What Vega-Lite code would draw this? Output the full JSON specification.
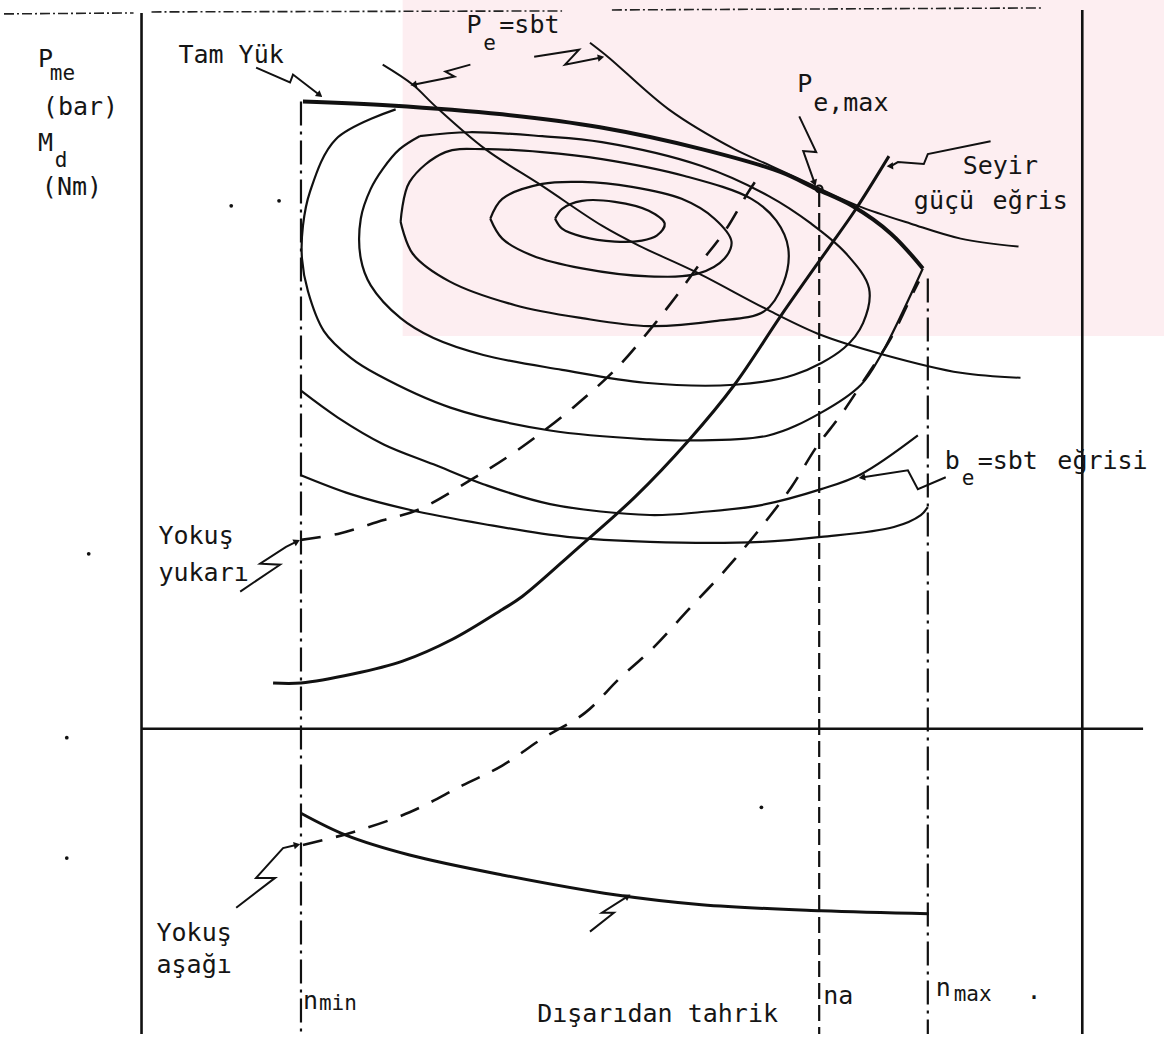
{
  "$schema": "https://vega.github.io/schema/vega-lite/v6.json",
  "width": 1164,
  "height": 1040,
  "autosize": {"type": "fit", "contains": "padding"},
  "padding": 0,
  "background": "white",
  "view": {"stroke": null},
  "datasets": {
    "tint": [{"n": 400, "n2": 1164, "M": 395, "M2": 733}],
    "frame": [
      {"id": "left", "i": 0, "n": 138, "M": 720}, {"id": "left", "i": 1, "n": 138, "M": -307},
      {"id": "right", "i": 0, "n": 1082, "M": 723}, {"id": "right", "i": 1, "n": 1082, "M": -307},
      {"id": "zero", "i": 0, "n": 138, "M": 0}, {"id": "zero", "i": 1, "n": 1143, "M": 0}
    ],
    "topedge": [
      {"id": "t1", "i": 0, "n": 0, "M": 719}, {"id": "t1", "i": 1, "n": 130, "M": 720},
      {"id": "t2", "i": 0, "n": 148, "M": 721}, {"id": "t2", "i": 1, "n": 560, "M": 722},
      {"id": "t3", "i": 0, "n": 610, "M": 723}, {"id": "t3", "i": 1, "n": 1043, "M": 725}
    ],
    "fullload": [
      {"i": 0, "n": 300, "M": 631}, {"i": 1, "n": 388, "M": 627}, {"i": 2, "n": 500, "M": 618},
      {"i": 3, "n": 598, "M": 605}, {"i": 4, "n": 700, "M": 583}, {"i": 5, "n": 779, "M": 560},
      {"i": 6, "n": 815, "M": 543}, {"i": 7, "n": 851, "M": 526}, {"i": 8, "n": 890, "M": 498},
      {"i": 9, "n": 922, "M": 463}
    ],
    "power": [
      {"id": "pe1", "i": 0, "n": 380, "M": 668}, {"id": "pe1", "i": 1, "n": 410, "M": 648},
      {"id": "pe1", "i": 2, "n": 433, "M": 626}, {"id": "pe1", "i": 3, "n": 483, "M": 583},
      {"id": "pe1", "i": 4, "n": 540, "M": 546}, {"id": "pe1", "i": 5, "n": 600, "M": 506},
      {"id": "pe1", "i": 6, "n": 637, "M": 486}, {"id": "pe1", "i": 7, "n": 693, "M": 460},
      {"id": "pe1", "i": 8, "n": 767, "M": 421}, {"id": "pe1", "i": 9, "n": 820, "M": 396},
      {"id": "pe1", "i": 10, "n": 880, "M": 377}, {"id": "pe1", "i": 11, "n": 960, "M": 358},
      {"id": "pe1", "i": 12, "n": 1020, "M": 353},
      {"id": "pe2", "i": 0, "n": 588, "M": 690}, {"id": "pe2", "i": 1, "n": 607, "M": 675},
      {"id": "pe2", "i": 2, "n": 667, "M": 623}, {"id": "pe2", "i": 3, "n": 733, "M": 583},
      {"id": "pe2", "i": 4, "n": 770, "M": 566}, {"id": "pe2", "i": 5, "n": 815, "M": 545},
      {"id": "pe2", "i": 6, "n": 857, "M": 526}, {"id": "pe2", "i": 7, "n": 910, "M": 508},
      {"id": "pe2", "i": 8, "n": 960, "M": 493}, {"id": "pe2", "i": 9, "n": 1018, "M": 485}
    ],
    "bsfc": [
      {"id": "c1", "i": 0, "n": 553, "M": 513}, {"id": "c1", "i": 1, "n": 560, "M": 523},
      {"id": "c1", "i": 2, "n": 580, "M": 531}, {"id": "c1", "i": 3, "n": 613, "M": 530},
      {"id": "c1", "i": 4, "n": 647, "M": 521}, {"id": "c1", "i": 5, "n": 663, "M": 508},
      {"id": "c1", "i": 6, "n": 655, "M": 496}, {"id": "c1", "i": 7, "n": 640, "M": 491},
      {"id": "c1", "i": 8, "n": 613, "M": 490}, {"id": "c1", "i": 9, "n": 580, "M": 495},
      {"id": "c1", "i": 10, "n": 560, "M": 503}, {"id": "c1", "i": 11, "n": 553, "M": 513},
      {"id": "c2", "i": 0, "n": 488, "M": 513}, {"id": "c2", "i": 1, "n": 500, "M": 533},
      {"id": "c2", "i": 2, "n": 540, "M": 548}, {"id": "c2", "i": 3, "n": 580, "M": 550},
      {"id": "c2", "i": 4, "n": 630, "M": 545}, {"id": "c2", "i": 5, "n": 680, "M": 533},
      {"id": "c2", "i": 6, "n": 713, "M": 513}, {"id": "c2", "i": 7, "n": 730, "M": 490},
      {"id": "c2", "i": 8, "n": 723, "M": 473}, {"id": "c2", "i": 9, "n": 697, "M": 458},
      {"id": "c2", "i": 10, "n": 647, "M": 455}, {"id": "c2", "i": 11, "n": 580, "M": 463},
      {"id": "c2", "i": 12, "n": 530, "M": 476}, {"id": "c2", "i": 13, "n": 500, "M": 493},
      {"id": "c2", "i": 14, "n": 488, "M": 513},
      {"id": "c3", "i": 0, "n": 398, "M": 510}, {"id": "c3", "i": 1, "n": 407, "M": 550},
      {"id": "c3", "i": 2, "n": 443, "M": 580}, {"id": "c3", "i": 3, "n": 483, "M": 583},
      {"id": "c3", "i": 4, "n": 540, "M": 580}, {"id": "c3", "i": 5, "n": 600, "M": 573},
      {"id": "c3", "i": 6, "n": 683, "M": 556}, {"id": "c3", "i": 7, "n": 750, "M": 533},
      {"id": "c3", "i": 8, "n": 775, "M": 511}, {"id": "c3", "i": 9, "n": 787, "M": 483},
      {"id": "c3", "i": 10, "n": 782, "M": 448}, {"id": "c3", "i": 11, "n": 763, "M": 420},
      {"id": "c3", "i": 12, "n": 713, "M": 410}, {"id": "c3", "i": 13, "n": 647, "M": 405},
      {"id": "c3", "i": 14, "n": 580, "M": 413}, {"id": "c3", "i": 15, "n": 513, "M": 426},
      {"id": "c3", "i": 16, "n": 447, "M": 450}, {"id": "c3", "i": 17, "n": 410, "M": 478},
      {"id": "c3", "i": 18, "n": 398, "M": 510},
      {"id": "c4", "i": 0, "n": 417, "M": 596}, {"id": "c4", "i": 1, "n": 467, "M": 600},
      {"id": "c4", "i": 2, "n": 540, "M": 596}, {"id": "c4", "i": 3, "n": 600, "M": 590},
      {"id": "c4", "i": 4, "n": 700, "M": 566}, {"id": "c4", "i": 5, "n": 767, "M": 536},
      {"id": "c4", "i": 6, "n": 810, "M": 508}, {"id": "c4", "i": 7, "n": 845, "M": 478},
      {"id": "c4", "i": 8, "n": 868, "M": 443}, {"id": "c4", "i": 9, "n": 862, "M": 408},
      {"id": "c4", "i": 10, "n": 843, "M": 383}, {"id": "c4", "i": 11, "n": 793, "M": 356},
      {"id": "c4", "i": 12, "n": 733, "M": 346}, {"id": "c4", "i": 13, "n": 643, "M": 348},
      {"id": "c4", "i": 14, "n": 560, "M": 361}, {"id": "c4", "i": 15, "n": 481, "M": 376},
      {"id": "c4", "i": 16, "n": 431, "M": 393}, {"id": "c4", "i": 17, "n": 398, "M": 413},
      {"id": "c4", "i": 18, "n": 368, "M": 446}, {"id": "c4", "i": 19, "n": 358, "M": 473},
      {"id": "c4", "i": 20, "n": 358, "M": 513}, {"id": "c4", "i": 21, "n": 368, "M": 543},
      {"id": "c4", "i": 22, "n": 380, "M": 563}, {"id": "c4", "i": 23, "n": 397, "M": 583},
      {"id": "c4", "i": 24, "n": 417, "M": 596},
      {"id": "c5", "i": 0, "n": 393, "M": 623}, {"id": "c5", "i": 1, "n": 333, "M": 593},
      {"id": "c5", "i": 2, "n": 307, "M": 540}, {"id": "c5", "i": 3, "n": 300, "M": 506},
      {"id": "c5", "i": 4, "n": 299, "M": 473}, {"id": "c5", "i": 5, "n": 305, "M": 440},
      {"id": "c5", "i": 6, "n": 321, "M": 400}, {"id": "c5", "i": 7, "n": 348, "M": 373},
      {"id": "c5", "i": 8, "n": 375, "M": 356}, {"id": "c5", "i": 9, "n": 448, "M": 323},
      {"id": "c5", "i": 10, "n": 548, "M": 300}, {"id": "c5", "i": 11, "n": 648, "M": 291},
      {"id": "c5", "i": 12, "n": 687, "M": 290}, {"id": "c5", "i": 13, "n": 767, "M": 295},
      {"id": "c5", "i": 14, "n": 820, "M": 318}, {"id": "c5", "i": 15, "n": 860, "M": 346},
      {"id": "c5", "i": 16, "n": 880, "M": 376}, {"id": "c5", "i": 17, "n": 922, "M": 463},
      {"id": "c6", "i": 0, "n": 298, "M": 340}, {"id": "c6", "i": 1, "n": 335, "M": 313},
      {"id": "c6", "i": 2, "n": 381, "M": 286}, {"id": "c6", "i": 3, "n": 431, "M": 266},
      {"id": "c6", "i": 4, "n": 481, "M": 246}, {"id": "c6", "i": 5, "n": 548, "M": 226},
      {"id": "c6", "i": 6, "n": 648, "M": 215}, {"id": "c6", "i": 7, "n": 700, "M": 218},
      {"id": "c6", "i": 8, "n": 760, "M": 225}, {"id": "c6", "i": 9, "n": 820, "M": 241},
      {"id": "c6", "i": 10, "n": 860, "M": 256}, {"id": "c6", "i": 11, "n": 917, "M": 295},
      {"id": "c7", "i": 0, "n": 298, "M": 255}, {"id": "c7", "i": 1, "n": 348, "M": 236},
      {"id": "c7", "i": 2, "n": 408, "M": 220}, {"id": "c7", "i": 3, "n": 481, "M": 206},
      {"id": "c7", "i": 4, "n": 565, "M": 193}, {"id": "c7", "i": 5, "n": 648, "M": 188},
      {"id": "c7", "i": 6, "n": 760, "M": 188}, {"id": "c7", "i": 7, "n": 820, "M": 193},
      {"id": "c7", "i": 8, "n": 893, "M": 203}, {"id": "c7", "i": 9, "n": 920, "M": 215},
      {"id": "c7", "i": 10, "n": 927, "M": 223}
    ],
    "roadload": [
      {"i": 0, "n": 270, "M": 46}, {"i": 1, "n": 298, "M": 46}, {"i": 2, "n": 350, "M": 55},
      {"i": 3, "n": 400, "M": 68}, {"i": 4, "n": 450, "M": 90}, {"i": 5, "n": 500, "M": 120},
      {"i": 6, "n": 520, "M": 133}, {"i": 7, "n": 575, "M": 181}, {"i": 8, "n": 633, "M": 233},
      {"i": 9, "n": 687, "M": 290}, {"i": 10, "n": 733, "M": 346}, {"i": 11, "n": 780, "M": 416},
      {"i": 12, "n": 827, "M": 483}, {"i": 13, "n": 853, "M": 520}, {"i": 14, "n": 888, "M": 576}
    ],
    "slopes": [
      {"id": "up", "i": 0, "n": 298, "M": 190}, {"id": "up", "i": 1, "n": 335, "M": 196},
      {"id": "up", "i": 2, "n": 381, "M": 210}, {"id": "up", "i": 3, "n": 415, "M": 220},
      {"id": "up", "i": 4, "n": 468, "M": 250}, {"id": "up", "i": 5, "n": 515, "M": 280},
      {"id": "up", "i": 6, "n": 571, "M": 323}, {"id": "up", "i": 7, "n": 615, "M": 363},
      {"id": "up", "i": 8, "n": 647, "M": 400}, {"id": "up", "i": 9, "n": 673, "M": 433},
      {"id": "up", "i": 10, "n": 700, "M": 470}, {"id": "up", "i": 11, "n": 723, "M": 500},
      {"id": "up", "i": 12, "n": 747, "M": 540}, {"id": "up", "i": 13, "n": 757, "M": 555},
      {"id": "down", "i": 0, "n": 300, "M": -117}, {"id": "down", "i": 1, "n": 350, "M": -104},
      {"id": "down", "i": 2, "n": 407, "M": -84}, {"id": "down", "i": 3, "n": 460, "M": -57},
      {"id": "down", "i": 4, "n": 500, "M": -37}, {"id": "down", "i": 5, "n": 540, "M": -10},
      {"id": "down", "i": 6, "n": 583, "M": 16}, {"id": "down", "i": 7, "n": 617, "M": 50},
      {"id": "down", "i": 8, "n": 650, "M": 80}, {"id": "down", "i": 9, "n": 687, "M": 120},
      {"id": "down", "i": 10, "n": 725, "M": 161}, {"id": "down", "i": 11, "n": 760, "M": 203},
      {"id": "down", "i": 12, "n": 790, "M": 243}, {"id": "down", "i": 13, "n": 815, "M": 283},
      {"id": "down", "i": 14, "n": 840, "M": 316}, {"id": "down", "i": 15, "n": 860, "M": 346},
      {"id": "down", "i": 16, "n": 890, "M": 393}, {"id": "down", "i": 17, "n": 912, "M": 438},
      {"id": "down", "i": 18, "n": 918, "M": 450}
    ],
    "motoring": [
      {"i": 0, "n": 298, "M": -85}, {"i": 1, "n": 343, "M": -107}, {"i": 2, "n": 407, "M": -127},
      {"i": 3, "n": 500, "M": -147}, {"i": 4, "n": 613, "M": -167}, {"i": 5, "n": 700, "M": -177},
      {"i": 6, "n": 820, "M": -183}, {"i": 7, "n": 928, "M": -186}
    ],
    "speeds": [
      {"id": "nmin", "i": 0, "n": 298, "M": 631}, {"id": "nmin", "i": 1, "n": 298, "M": -307},
      {"id": "nmax", "i": 0, "n": 927, "M": 453}, {"id": "nmax", "i": 1, "n": 927, "M": -307}
    ],
    "na": [
      {"i": 0, "n": 818, "M": 541}, {"i": 1, "n": 818, "M": -307}
    ],
    "leaders": [
      {"id": "tam", "i": 0, "n": 253, "M": 665}, {"id": "tam", "i": 1, "n": 287, "M": 650},
      {"id": "tam", "i": 2, "n": 290, "M": 658}, {"id": "tam", "i": 3, "n": 316, "M": 638},
      {"id": "pl", "i": 0, "n": 468, "M": 668}, {"id": "pl", "i": 1, "n": 443, "M": 661},
      {"id": "pl", "i": 2, "n": 452, "M": 656}, {"id": "pl", "i": 3, "n": 427, "M": 651},
      {"id": "pl", "i": 4, "n": 412, "M": 648},
      {"id": "pr", "i": 0, "n": 532, "M": 676}, {"id": "pr", "i": 1, "n": 577, "M": 683},
      {"id": "pr", "i": 2, "n": 563, "M": 668}, {"id": "pr", "i": 3, "n": 598, "M": 675},
      {"id": "pmax", "i": 0, "n": 798, "M": 616}, {"id": "pmax", "i": 1, "n": 815, "M": 580},
      {"id": "pmax", "i": 2, "n": 802, "M": 581}, {"id": "pmax", "i": 3, "n": 813, "M": 550},
      {"id": "sey", "i": 0, "n": 990, "M": 591}, {"id": "sey", "i": 1, "n": 927, "M": 578},
      {"id": "sey", "i": 2, "n": 923, "M": 568}, {"id": "sey", "i": 3, "n": 897, "M": 570},
      {"id": "sey", "i": 4, "n": 890, "M": 566},
      {"id": "be", "i": 0, "n": 945, "M": 253}, {"id": "be", "i": 1, "n": 917, "M": 241},
      {"id": "be", "i": 2, "n": 907, "M": 260}, {"id": "be", "i": 3, "n": 862, "M": 253},
      {"id": "yy", "i": 0, "n": 237, "M": 138}, {"id": "yy", "i": 1, "n": 277, "M": 165},
      {"id": "yy", "i": 2, "n": 257, "M": 166}, {"id": "yy", "i": 3, "n": 283, "M": 183},
      {"id": "yy", "i": 4, "n": 293, "M": 188},
      {"id": "ya", "i": 0, "n": 233, "M": -180}, {"id": "ya", "i": 1, "n": 272, "M": -150},
      {"id": "ya", "i": 2, "n": 253, "M": -150}, {"id": "ya", "i": 3, "n": 280, "M": -120},
      {"id": "ya", "i": 4, "n": 293, "M": -117},
      {"id": "dt", "i": 0, "n": 588, "M": -204}, {"id": "dt", "i": 1, "n": 612, "M": -185},
      {"id": "dt", "i": 2, "n": 600, "M": -185}, {"id": "dt", "i": 3, "n": 625, "M": -169}
    ],
    "heads": [
      {"n": 316, "M": 638, "heading": 128}, {"n": 412, "M": 648, "heading": 259},
      {"n": 598, "M": 675, "heading": 79}, {"n": 813, "M": 550, "heading": 160},
      {"n": 890, "M": 566, "heading": 266}, {"n": 862, "M": 253, "heading": 261},
      {"n": 293, "M": 188, "heading": 63}, {"n": 293, "M": -117, "heading": 77},
      {"n": 625, "M": -169, "heading": 57}
    ],
    "pemax": [{"n": 818, "M": 543}],
    "specks": [
      {"n": 228, "M": 526}, {"n": 276, "M": 531}, {"n": 85, "M": 176},
      {"n": 63, "M": -9}, {"n": 63, "M": -130}, {"n": 760, "M": -79}
    ],
    "labels": [
      {"t": "P", "role": "main", "n": 34, "M": 666},
      {"t": "me", "role": "sub", "n": 46, "M": 653},
      {"t": "(bar)", "role": "main", "n": 39, "M": 617},
      {"t": "M", "role": "main", "n": 34, "M": 581},
      {"t": "d", "role": "sub", "n": 51, "M": 565},
      {"t": "(Nm)", "role": "main", "n": 38, "M": 537},
      {"t": "Tam Yük", "role": "main", "n": 175, "M": 670},
      {"t": "P", "role": "main", "n": 464, "M": 700},
      {"t": "e", "role": "sub", "n": 481, "M": 683},
      {"t": "=sbt", "role": "main", "n": 497, "M": 700},
      {"t": "P", "role": "main", "n": 796, "M": 640},
      {"t": "e,max", "role": "main", "n": 812, "M": 621},
      {"t": "Seyir", "role": "main", "n": 962, "M": 558},
      {"t": "güçü", "role": "main", "n": 913, "M": 523},
      {"t": "eğris", "role": "main", "n": 992, "M": 523},
      {"t": "b", "role": "main", "n": 944, "M": 261},
      {"t": "e", "role": "sub", "n": 961, "M": 245},
      {"t": "=sbt", "role": "main", "n": 977, "M": 261},
      {"t": "eğrisi", "role": "main", "n": 1057, "M": 261},
      {"t": "Yokuş", "role": "main", "n": 155, "M": 186},
      {"t": "yukarı", "role": "main", "n": 155, "M": 149},
      {"t": "Yokuş", "role": "main", "n": 153, "M": -213},
      {"t": "aşağı", "role": "main", "n": 153, "M": -246},
      {"t": "n", "role": "main", "n": 300, "M": -282},
      {"t": "min", "role": "sub", "n": 316, "M": -283},
      {"t": "Dışarıdan tahrik", "role": "main", "n": 535, "M": -295},
      {"t": "na", "role": "main", "n": 822, "M": -277},
      {"t": "n", "role": "main", "n": 935, "M": -269},
      {"t": "max", "role": "sub", "n": 953, "M": -274},
      {"t": ".", "role": "main", "n": 1026, "M": -272}
    ]
  },
  "encoding": {
    "x": {"field": "n", "type": "quantitative", "scale": {"domain": [0, 1164], "nice": false, "zero": false}, "axis": null},
    "y": {"field": "M", "type": "quantitative", "scale": {"domain": [-307, 733], "nice": false, "zero": false}, "axis": null}
  },
  "layer": [
    {
      "data": {"name": "tint"},
      "mark": {"type": "rect", "fill": "#fdeef1", "strokeWidth": 0},
      "encoding": {"x2": {"field": "n2"}, "y2": {"field": "M2"}}
    },
    {
      "data": {"name": "topedge"},
      "mark": {"type": "line", "stroke": "#222222", "strokeWidth": 1.6, "strokeDash": [10, 3, 2, 3]},
      "encoding": {"detail": {"field": "id"}, "order": {"field": "i"}}
    },
    {
      "data": {"name": "frame"},
      "mark": {"type": "line", "stroke": "#111111", "strokeWidth": 2.6},
      "encoding": {"detail": {"field": "id"}, "order": {"field": "i"}}
    },
    {
      "data": {"name": "speeds"},
      "mark": {"type": "line", "stroke": "#111111", "strokeWidth": 2.2, "strokeDash": [24, 6, 3, 6]},
      "encoding": {"detail": {"field": "id"}, "order": {"field": "i"}}
    },
    {
      "data": {"name": "na"},
      "mark": {"type": "line", "stroke": "#111111", "strokeWidth": 2.2, "strokeDash": [16, 6]},
      "encoding": {"order": {"field": "i"}}
    },
    {
      "data": {"name": "bsfc"},
      "mark": {"type": "line", "stroke": "#111111", "strokeWidth": 2.2, "interpolate": "catmull-rom"},
      "encoding": {"detail": {"field": "id"}, "order": {"field": "i"}}
    },
    {
      "data": {"name": "power"},
      "mark": {"type": "line", "stroke": "#111111", "strokeWidth": 2, "interpolate": "catmull-rom"},
      "encoding": {"detail": {"field": "id"}, "order": {"field": "i"}}
    },
    {
      "data": {"name": "fullload"},
      "mark": {"type": "line", "stroke": "#111111", "strokeWidth": 4, "interpolate": "catmull-rom"},
      "encoding": {"order": {"field": "i"}}
    },
    {
      "data": {"name": "roadload"},
      "mark": {"type": "line", "stroke": "#111111", "strokeWidth": 3, "interpolate": "catmull-rom"},
      "encoding": {"order": {"field": "i"}}
    },
    {
      "data": {"name": "slopes"},
      "mark": {"type": "line", "stroke": "#111111", "strokeWidth": 2.6, "strokeDash": [20, 14], "interpolate": "catmull-rom"},
      "encoding": {"detail": {"field": "id"}, "order": {"field": "i"}}
    },
    {
      "data": {"name": "motoring"},
      "mark": {"type": "line", "stroke": "#111111", "strokeWidth": 3, "interpolate": "catmull-rom"},
      "encoding": {"order": {"field": "i"}}
    },
    {
      "data": {"name": "leaders"},
      "mark": {"type": "line", "stroke": "#111111", "strokeWidth": 2},
      "encoding": {"detail": {"field": "id"}, "order": {"field": "i"}}
    },
    {
      "data": {"name": "heads"},
      "mark": {"type": "point", "shape": "triangle", "filled": true, "fill": "#111111", "size": 55, "strokeWidth": 0, "opacity": 1},
      "encoding": {"angle": {"field": "heading", "type": "quantitative", "scale": null}}
    },
    {
      "data": {"name": "pemax"},
      "mark": {"type": "point", "shape": "circle", "filled": false, "stroke": "#111111", "strokeWidth": 2, "size": 45, "opacity": 1}
    },
    {
      "data": {"name": "specks"},
      "mark": {"type": "point", "shape": "circle", "filled": true, "fill": "#111111", "size": 14, "strokeWidth": 0, "opacity": 1}
    },
    {
      "data": {"name": "labels"},
      "transform": [{"filter": "datum.role === 'main'"}],
      "mark": {"type": "text", "align": "left", "baseline": "alphabetic", "font": "DejaVu Sans Mono", "fontSize": 25, "fill": "#151515"},
      "encoding": {"text": {"field": "t"}}
    },
    {
      "data": {"name": "labels"},
      "transform": [{"filter": "datum.role === 'sub'"}],
      "mark": {"type": "text", "align": "left", "baseline": "alphabetic", "font": "DejaVu Sans Mono", "fontSize": 21, "fill": "#151515"},
      "encoding": {"text": {"field": "t"}}
    }
  ]
}
